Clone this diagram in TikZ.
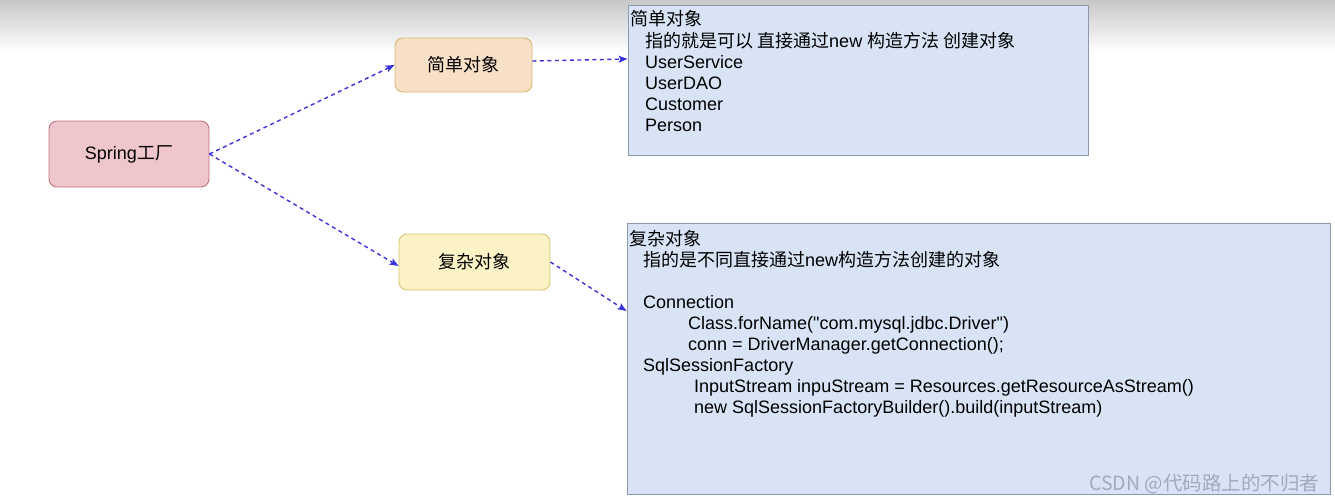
\documentclass[tikz,border=0pt]{standalone}
\usepackage{fontspec}
\setmainfont{Liberation Sans}
\newfontfamily\lsans{Liberation Sans}
\newfontfamily\cjk{Noto Sans CJK SC}
\usetikzlibrary{arrows.meta,calc}
\definecolor{pinkfill}{RGB}{238,198,203}
\definecolor{pinkline}{RGB}{190,115,125}
\definecolor{orfill}{RGB}{248,224,198}
\definecolor{orline}{RGB}{212,184,112}
\definecolor{yefill}{RGB}{251,242,198}
\definecolor{yeline}{RGB}{216,194,112}
\definecolor{blfill}{RGB}{216,228,246}
\definecolor{blline}{RGB}{140,152,175}
\definecolor{arrowc}{RGB}{60,50,220}
\definecolor{wmark}{RGB}{160,170,186}
\tikzset{
  fnode/.style={draw, rounded corners=8pt, line width=0.9pt, inner sep=0pt, font=\fontsize{18}{21}\selectfont},
  infobox/.style={draw=blline, fill=blfill, line width=0.9pt, inner sep=0pt},
  conn/.style={arrowc, line width=1.4pt, dash pattern=on 4pt off 3.5pt, -{Stealth[length=9pt,width=7pt,inset=2pt]}},
  txt/.style={anchor=base west, inner sep=0pt, font=\lsans\fontsize{18}{21}\selectfont},
}
\begin{document}
\begin{tikzpicture}[x=1pt,y=-1pt]
\useasboundingbox (0,0) rectangle (1335,501);
\fill[white] (0,0) rectangle (1335,501);
\shade[top color=black!22, bottom color=white] (0,0) rectangle (1335,52);

\node[fnode, draw=pinkline, fill=pinkfill, minimum width=160pt, minimum height=66pt] (spring) at (129,154) {Spring{\cjk 工厂}};
\node[fnode, draw=orline, fill=orfill, minimum width=137pt, minimum height=54pt] (simple) at (463.5,65) {\cjk 简单对象};
\node[fnode, draw=yeline, fill=yefill, minimum width=151pt, minimum height=56pt] (complex) at (474.5,262) {\cjk 复杂对象};

\node[infobox, minimum width=460pt, minimum height=150pt] (box1) at (858,80) {};
\node[infobox, minimum width=703pt, minimum height=271pt] (box2) at (978.5,358.5) {};

% box 1 text
\node[txt] (a1) at (630,25) {\cjk 简单对象};
\node[txt] (a2) at (645,47) {{\cjk 指的就是可以 直接通过}new {\cjk 构造方法 创建对象}};
\node[txt] (a3) at (645,68) {UserService};
\node[txt] (a4) at (645,89) {UserDAO};
\node[txt] (a5) at (645,110) {Customer};
\node[txt] (a6) at (645,131) {Person};

% box 2 text
\node[txt] (b1) at (629,245) {\cjk 复杂对象};
\node[txt] (b2) at (643,266) {{\cjk 指的是不同直接通过}new{\cjk 构造方法创建的对象}};
\node[txt] (b3) at (643,308) {Connection};
\node[txt] (b4) at (688,329) {Class.forName("com.mysql.jdbc.Driver")};
\node[txt] (b5) at (688,350) {conn = DriverManager.getConnection();};
\node[txt] (b6) at (643,371) {SqlSessionFactory};
\node[txt] (b7) at (694,392) {InputStream inpuStream = Resources.getResourceAsStream()};
\node[txt] (b8) at (694,413) {new SqlSessionFactoryBuilder().build(inputStream)};

% connectors
\draw[conn] (spring.east) -- (simple.west);
\draw[conn] (spring.east) -- ([yshift=-4pt]complex.west);
\draw[conn] ([yshift=4pt]simple.east) -- ([yshift=21pt]box1.west);
\draw[conn] (complex.east) -- ([yshift=47.5pt]box2.west);

% watermark
\node[anchor=base west, inner sep=0pt, text=wmark, font=\cjk\fontsize{19.5}{22}\selectfont] (wm) at (1089,490) {CSDN @代码路上的不归者};
\end{tikzpicture}
\end{document}
